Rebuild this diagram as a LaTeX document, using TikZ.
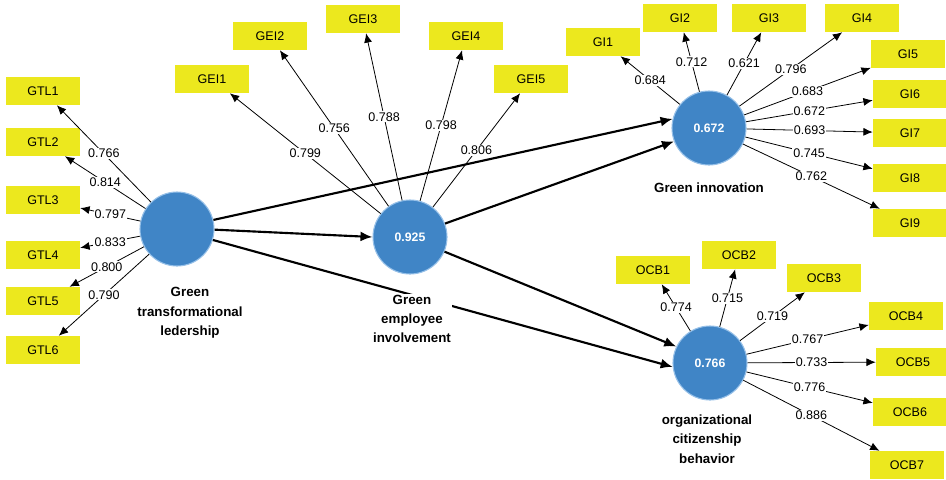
\documentclass[tikz,border=0pt]{standalone}
\usepackage{fontspec}
\setmainfont{Liberation Sans}
\usepackage{tikz}
\usetikzlibrary{arrows.meta}
\definecolor{lvblue}{RGB}{64,133,198}
\definecolor{lvedge}{RGB}{150,192,232}
\definecolor{mvyellow}{RGB}{236,232,30}
\tikzstyle{construct} = [draw=lvedge, line width=0.8pt, fill=lvblue, circle,
    minimum size=55.5pt, inner sep=0pt, text=white,
    font=\fontsize{9.2}{11}\selectfont\bfseries]
\tikzstyle{indicator} = [fill=mvyellow, rectangle, minimum width=55.5pt,
    minimum height=21pt, inner sep=0pt, font=\fontsize{9.4}{11}\selectfont]
\tikzstyle{coef} = [fill=white, inner sep=0.8pt, font=\fontsize{9.4}{11}\selectfont]
\tikzstyle{lvname} = [fill=white, align=center, inner sep=1pt,
    font=\fontsize{10}{14.5}\selectfont\bfseries]
\tikzstyle{loading} = [-{Latex[length=7pt,width=6pt]}, line width=0.6pt]
\tikzstyle{structural} = [-{Latex[length=9pt,width=7.5pt]}, line width=1.6pt]

\begin{document}
\begin{tikzpicture}[x=0.75pt, y=-0.75pt]
    \useasboundingbox (0,0) rectangle (946,479);

    % latent variables
    \node [construct] (gtl) at (177,229) {};
    \node [construct] (gei) at (410,237) {0.925};
    \node [construct] (gi) at (709,128) {0.672};
    \node [construct] (ocb) at (710,363) {0.766};

    % green transformational leadership items
    \node [indicator] (gtl1) at (43,91) {GTL1};
    \node [indicator] (gtl2) at (43,142) {GTL2};
    \node [indicator] (gtl3) at (43,200) {GTL3};
    \node [indicator] (gtl4) at (43,255) {GTL4};
    \node [indicator] (gtl5) at (43,301) {GTL5};
    \node [indicator] (gtl6) at (43,350) {GTL6};

    \draw [loading] (gtl) -- node[coef] {0.766} (gtl1);
    \draw [loading] (gtl) -- node[coef] {0.814} (gtl2);
    \draw [loading] (gtl) -- node[coef] {0.797} (gtl3);
    \draw [loading] (gtl) -- node[coef] {0.833} (gtl4);
    \draw [loading] (gtl) -- node[coef] {0.800} (gtl5);
    \draw [loading] (gtl) -- node[coef] {0.790} (gtl6);

    % green employee involvement items
    \node [indicator] (gei1) at (212,79) {GEI1};
    \node [indicator] (gei2) at (270,36) {GEI2};
    \node [indicator] (gei3) at (363,19) {GEI3};
    \node [indicator] (gei4) at (466,36) {GEI4};
    \node [indicator] (gei5) at (531,79) {GEI5};

    \draw [loading] (gei) -- node[coef] {0.799} (gei1);
    \draw [loading] (gei) -- node[coef] {0.756} (gei2);
    \draw [loading] (gei) -- node[coef] {0.788} (gei3);
    \draw [loading] (gei) -- node[coef] {0.798} (gei4);
    \draw [loading] (gei) -- node[coef] {0.806} (gei5);

    % green innovation items
    \node [indicator] (gi1) at (603,42) {GI1};
    \node [indicator] (gi2) at (680,18) {GI2};
    \node [indicator] (gi3) at (769,18) {GI3};
    \node [indicator] (gi4) at (862,18) {GI4};
    \node [indicator] (gi5) at (908,54) {GI5};
    \node [indicator] (gi6) at (910,94) {GI6};
    \node [indicator] (gi7) at (910,133) {GI7};
    \node [indicator] (gi8) at (910,178) {GI8};
    \node [indicator] (gi9) at (910,223) {GI9};

    \draw [loading] (gi) -- node[coef] {0.684} (gi1);
    \draw [loading] (gi) -- node[coef] {0.712} (gi2);
    \draw [loading] (gi) -- node[coef] {0.621} (gi3);
    \draw [loading] (gi) -- node[coef] {0.796} (gi4);
    \draw [loading] (gi) -- node[coef] {0.683} (gi5);
    \draw [loading] (gi) -- node[coef] {0.672} (gi6);
    \draw [loading] (gi) -- node[coef] {0.693} (gi7);
    \draw [loading] (gi) -- node[coef] {0.745} (gi8);
    \draw [loading] (gi) -- node[coef] {0.762} (gi9);

    % organizational citizenship behavior items
    \node [indicator] (ocb1) at (653,270) {OCB1};
    \node [indicator] (ocb2) at (739,255) {OCB2};
    \node [indicator] (ocb3) at (824,278) {OCB3};
    \node [indicator] (ocb4) at (906,316) {OCB4};
    \node [indicator] (ocb5) at (913,362) {OCB5};
    \node [indicator] (ocb6) at (910,412) {OCB6};
    \node [indicator] (ocb7) at (907,465) {OCB7};

    \draw [loading] (ocb) -- node[coef] {0.774} (ocb1);
    \draw [loading] (ocb) -- node[coef] {0.715} (ocb2);
    \draw [loading] (ocb) -- node[coef] {0.719} (ocb3);
    \draw [loading] (ocb) -- node[coef] {0.767} (ocb4);
    \draw [loading] (ocb) -- node[coef] {0.733} (ocb5);
    \draw [loading] (ocb) -- node[coef] {0.776} (ocb6);
    \draw [loading] (ocb) -- node[coef] {0.886} (ocb7);

    % structural paths
    \draw [structural] (gtl.14) -- (gi.166);
    \draw [structural] (gtl.-1) -- (gei.180);
    \draw [structural] (gtl.-17) -- (ocb.186);
    \draw [structural] (gei.21) -- (gi.201);
    \draw [structural] (gei.-23) -- (ocb.154);

    % construct names
    \node [lvname] (gtlname) at (190,313) {Green\\transformational\\ledership};
    \node [lvname] (geiname) at (412,319) {Green\\employee\\involvement};
    \node [lvname] (giname) at (709,188) {Green innovation};
    \node [lvname] (ocbname) at (707,439) {organizational\\citizenship\\behavior};
\end{tikzpicture}
\end{document}
